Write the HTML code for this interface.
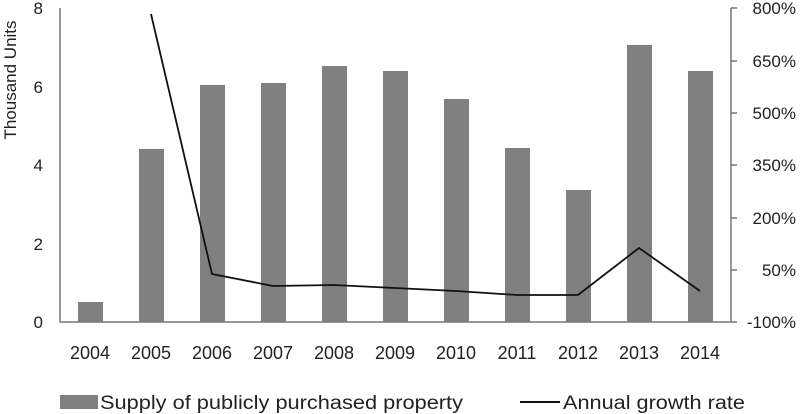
<!DOCTYPE html>
<html><head><style>
body{margin:0;background:#fff;}
svg{display:block;font-family:"Liberation Sans",sans-serif;}
</style></head><body>
<svg width="800" height="414" viewBox="0 0 800 414">
<g fill="#808080">
<rect x="78" y="302" width="25" height="20"/>
<rect x="139" y="149" width="25" height="173"/>
<rect x="200" y="85" width="25" height="237"/>
<rect x="261" y="83" width="25" height="239"/>
<rect x="322" y="66" width="25" height="256"/>
<rect x="383" y="71" width="25" height="251"/>
<rect x="444" y="99" width="25" height="223"/>
<rect x="505" y="148" width="25" height="174"/>
<rect x="566" y="190" width="25" height="132"/>
<rect x="627" y="45" width="25" height="277"/>
<rect x="688" y="71" width="25" height="251"/>
</g>
<g stroke="#777" stroke-width="1.5" fill="none">
<path d="M60 8V322H731V8"/>
<path d="M731 8h6M731 61h6M731 113h6M731 165h6M731 218h6M731 270h6M731 322h6"/>
</g>
<polyline fill="none" stroke="#111" stroke-width="1.8" points="151,14 212,274 273,286 334,285 395,288 456,291 517,295 578,295 639,248 700,291"/>
<g font-size="17" fill="#222" text-anchor="end">
<text x="43" y="14">8</text><text x="43" y="93">6</text><text x="43" y="171">4</text><text x="43" y="250">2</text><text x="43" y="328">0</text>
</g>
<g font-size="17" fill="#222" text-anchor="end">
<text x="796" y="14">800%</text><text x="796" y="67">650%</text><text x="796" y="119">500%</text><text x="796" y="171">350%</text><text x="796" y="224">200%</text><text x="796" y="276">50%</text><text x="796" y="328">-100%</text>
</g>
<text transform="translate(16,80) rotate(-90)" font-size="17" fill="#222" text-anchor="middle">Thousand Units</text>
<g font-size="18" fill="#222" text-anchor="middle">
<text x="90" y="359">2004</text><text x="151" y="359">2005</text><text x="212" y="359">2006</text><text x="273" y="359">2007</text><text x="334" y="359">2008</text><text x="395" y="359">2009</text><text x="456" y="359">2010</text><text x="517" y="359">2011</text><text x="578" y="359">2012</text><text x="639" y="359">2013</text><text x="700" y="359">2014</text>
</g>
<rect x="60" y="395" width="38" height="14" fill="#808080"/>
<text x="100" y="409" font-size="19" fill="#222" textLength="363" lengthAdjust="spacingAndGlyphs">Supply of publicly purchased property</text>
<line x1="520" y1="402" x2="560" y2="402" stroke="#111" stroke-width="2"/>
<text x="563" y="409" font-size="19" fill="#222" textLength="182" lengthAdjust="spacingAndGlyphs">Annual growth rate</text>
</svg>
</body></html>
